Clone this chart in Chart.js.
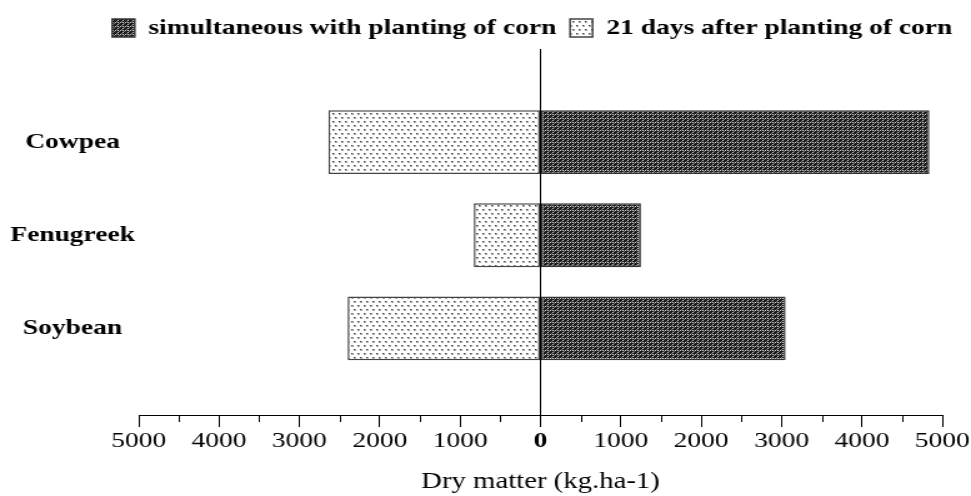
<!DOCTYPE html>
<html>
<head>
<meta charset="utf-8">
<script src="https://cdn.jsdelivr.net/npm/chart.js@4/dist/chart.umd.min.js"></script>
<style>
  html, body { margin: 0; padding: 0; background: #fff; overflow: hidden; }
  canvas { display: block; }
</style>
</head>
<body>
<!-- the source figure is stretched sideways, so the canvas is drawn narrower and widened by css -->
<canvas id="myChart" width="777" height="496" style="width:971px;height:496px"></canvas>
<script>
// crops and dry matter (kg/ha)
let crops = ['Cowpea', 'Fenugreek', 'Soybean']
let cropPos = [1, 2, 3]
let simultaneous = [4840, 1250, 3050]
let after21 = [2640, 830, 2400]
let seriesNames = ['simultaneous with planting of corn', '21 days after planting of corn']

const serif = "'Liberation Serif', 'Times New Roman', serif"

// dark cross-hatch and light dotted fills
function darkPattern() {
  let c = document.createElement('canvas')
  c.width = 4; c.height = 4
  let g = c.getContext('2d')
  g.fillStyle = '#1c1c1c'
  g.fillRect(0, 0, 4, 4)
  g.fillStyle = '#cfcfcf'
  g.fillRect(2, 0, 1, 1)
  g.fillRect(0, 2, 1, 1)
  g.fillStyle = '#f2f2f2'
  g.fillRect(2, 2, 1, 1)
  g.fillStyle = '#7a7a7a'
  g.fillRect(1, 1, 1, 1)
  g.fillRect(3, 3, 1, 1)
  return g.createPattern(c, 'repeat')
}

function lightPattern() {
  let c = document.createElement('canvas')
  c.width = 10; c.height = 8
  let g = c.getContext('2d')
  g.fillStyle = '#fff'
  g.fillRect(0, 0, 10, 8)
  g.fillStyle = '#a8a8a8'
  for (let p of [[1, 1], [6, 1], [3, 5], [8, 5]]) g.fillRect(p[0], p[1], 2, 2)
  g.fillStyle = '#3a3a3a'
  for (let p of [[1, 1], [6, 1], [3, 5], [8, 5]]) g.fillRect(p[0], p[1], 1, 1)
  return g.createPattern(c, 'repeat')
}

const Simult = simultaneous.map((x, i) => {
  return { x: x, y: cropPos[i] }
})

const After = after21.map((x, i) => {
  return { x: -x, y: cropPos[i] }
})

// short ticks at the half-thousands
const minorTicks = {
  id: 'minorTicks',
  afterDraw(chart) {
    let xs = chart.scales.x
    let ctx = chart.ctx
    ctx.save()
    ctx.strokeStyle = '#000'
    ctx.lineWidth = 1
    for (let v = xs.min + 500; v < xs.max; v += 1000) {
      let px = Math.round(xs.getPixelForValue(v)) + 0.5
      ctx.beginPath()
      ctx.moveTo(px, xs.top)
      ctx.lineTo(px, xs.top + 7)
      ctx.stroke()
    }
    ctx.restore()
  }
}

var myChart = document.getElementById('myChart').getContext('2d')

var popChart = new Chart(myChart, {
  type: 'bar',
  data: {
    datasets: [{
      label: seriesNames[0],
      data: Simult,
      backgroundColor: darkPattern(),
      borderColor: '#333',
      borderWidth: 1.5,
      borderSkipped: false
    }, {
      label: seriesNames[1],
      data: After,
      backgroundColor: lightPattern(),
      borderColor: '#444',
      borderWidth: 1.5,
      borderSkipped: false
    }]
  },
  plugins: [minorTicks],
  options: {
    indexAxis: 'y',
    responsive: false,
    devicePixelRatio: 1,
    animation: false,
    layout: { padding: { left: 0, right: 4, top: 6, bottom: 0 } },
    datasets: {
      bar: { barPercentage: 0.685, categoryPercentage: 1 }
    },
    scales: {
      x: {
        type: 'linear',
        position: 'bottom',
        stacked: true,
        min: -5000,
        max: 5000,
        border: { display: true, color: '#000', width: 1 },
        grid: {
          drawOnChartArea: true,
          color: (c) => c.tick && c.tick.value === 0 ? '#000' : 'rgba(0,0,0,0)',
          tickColor: '#000',
          tickLength: 12
        },
        ticks: {
          stepSize: 1000,
          color: '#000',
          padding: 1,
          maxRotation: 0,
          font: (c) => ({ family: serif, size: 22, weight: c.tick && c.tick.value === 0 ? 'bold' : 'normal' }),
          callback: (v) => Math.abs(v)
        },
        title: {
          display: true,
          text: 'Dry matter (kg.ha-1)',
          color: '#000',
          padding: { top: 13, bottom: 0 },
          font: { family: serif, size: 23 }
        }
      },
      y: {
        type: 'linear',
        stacked: true,
        reverse: true,
        offset: false,
        min: 0,
        max: 3.93,
        border: { display: false },
        grid: { display: false, offset: false, tickLength: 0 },
        afterBuildTicks: (s) => { s.ticks = cropPos.map(v => ({ value: v })) },
        afterFit: (s) => { s.width = 111 },
        ticks: {
          color: '#000',
          padding: 3,
          crossAlign: 'center',
          font: { family: serif, size: 22, weight: 'bold' },
          callback: (v) => crops[cropPos.indexOf(v)]
        }
      }
    },
    plugins: {
      legend: {
        position: 'top',
        align: 'end',
        labels: {
          color: '#000',
          boxWidth: 18,
          boxHeight: 18,
          padding: 11,
          font: { family: serif, size: 22, weight: 'bold' }
        }
      },
      tooltip: { enabled: false }
    }
  }
})
</script>
</body>
</html>
